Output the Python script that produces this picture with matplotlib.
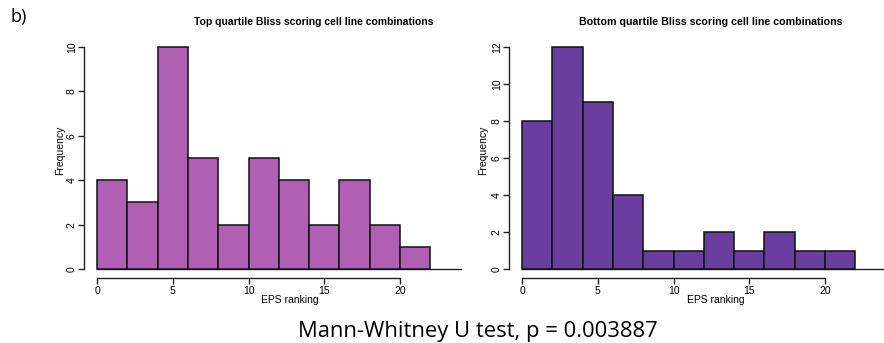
import matplotlib
matplotlib.use("Agg")
import matplotlib.pyplot as plt
import numpy as np

# ---- data ----
bin_edges = [0, 2, 4, 6, 8, 10, 12, 14, 16, 18, 20, 22]
top_counts = [4, 3, 10, 5, 2, 5, 4, 2, 4, 2, 1]
bottom_counts = [8, 12, 9, 4, 1, 1, 2, 1, 2, 1, 1]
x_ticks = [0, 5, 10, 15, 20]
top_yticks = [0, 2, 4, 6, 8, 10]
bottom_yticks = [0, 2, 4, 6, 8, 10, 12]
top_title = "Top quartile Bliss scoring cell line combinations"
bottom_title = "Bottom quartile Bliss scoring cell line combinations"
x_label = "EPS ranking"
y_label = "Frequency"
stat_text = "Mann-Whitney U test, p = 0.003887"
panel_label = "b)"

top_color = "#B05FB4"
bottom_color = "#6A3E9E"

W, H = 884, 343
fig = plt.figure(figsize=(W / 100, H / 100), dpi=100)
plt.rcParams['font.family'] = ['Liberation Sans', 'DejaVu Sans']


def px_axes(l, r, t, b):
    return fig.add_axes([l / W, 1 - b / H, (r - l) / W, (b - t) / H])


def draw_hist(ax, counts, color, yticks):
    edges = np.array(bin_edges, dtype=float)
    ax.bar(edges[:-1], counts, width=np.diff(edges), align='edge',
           color=color, edgecolor='#111111', linewidth=1.1, zorder=2)
    ymax = max(yticks)
    ax.set_xlim(-0.88, 22.88)
    ax.set_ylim(-0.04 * ymax, ymax * 1.04)
    # baseline extending to the right
    ax.plot([edges[0], 24.0], [0, 0], color='#222222', lw=1.0,
            clip_on=False, zorder=1)
    for s in ['top', 'right']:
        ax.spines[s].set_visible(False)
    ax.spines['left'].set_bounds(0, ymax)
    ax.spines['bottom'].set_bounds(0, 20)
    for s in ['left', 'bottom']:
        ax.spines[s].set_linewidth(1.0)
        ax.spines[s].set_color('#222222')
    ax.set_xticks(x_ticks)
    ax.set_yticks(yticks)
    ax.tick_params(axis='both', length=4, width=1.0, color='#222222',
                   labelsize=7.5)
    ax.tick_params(axis='x', pad=2)
    ax.tick_params(axis='y', pad=1)
    for lbl in ax.get_yticklabels():
        lbl.set_rotation(90)
        lbl.set_va('center')


ax1 = px_axes(83.7, 443.7, 38.1, 277.9)
draw_hist(ax1, top_counts, top_color, top_yticks)
ax2 = px_axes(508.7, 868.7, 38.1, 277.9)
draw_hist(ax2, bottom_counts, bottom_color, bottom_yticks)

# titles
fig.text(314 / W, 1 - 22 / H, top_title, ha='center', va='center',
         fontsize=7.5, fontweight='bold')
fig.text(711 / W, 1 - 22 / H, bottom_title, ha='center', va='center',
         fontsize=7.7, fontweight='bold')
# y labels
fig.text(60 / W, 1 - 150 / H, y_label, rotation=90, ha='center',
         va='center', fontsize=7.5)
fig.text(483 / W, 1 - 150 / H, y_label, rotation=90, ha='center',
         va='center', fontsize=7.5)
# x labels
fig.text(290 / W, 1 - 300 / H, x_label, ha='center', va='center', fontsize=7.5)
fig.text(716 / W, 1 - 300 / H, x_label, ha='center', va='center', fontsize=7.5)

# stat text
fig.text(478 / W, 1 - 337 / H, stat_text, ha='center', va='baseline',
         fontsize=15.8, family=['Open Sans', 'DejaVu Sans'])
# panel label
fig.text(10 / W, 1 - 17 / H, panel_label, ha='left', va='center',
         fontsize=13, family=['Open Sans', 'DejaVu Sans'])

fig.savefig("out.png", dpi=100)
